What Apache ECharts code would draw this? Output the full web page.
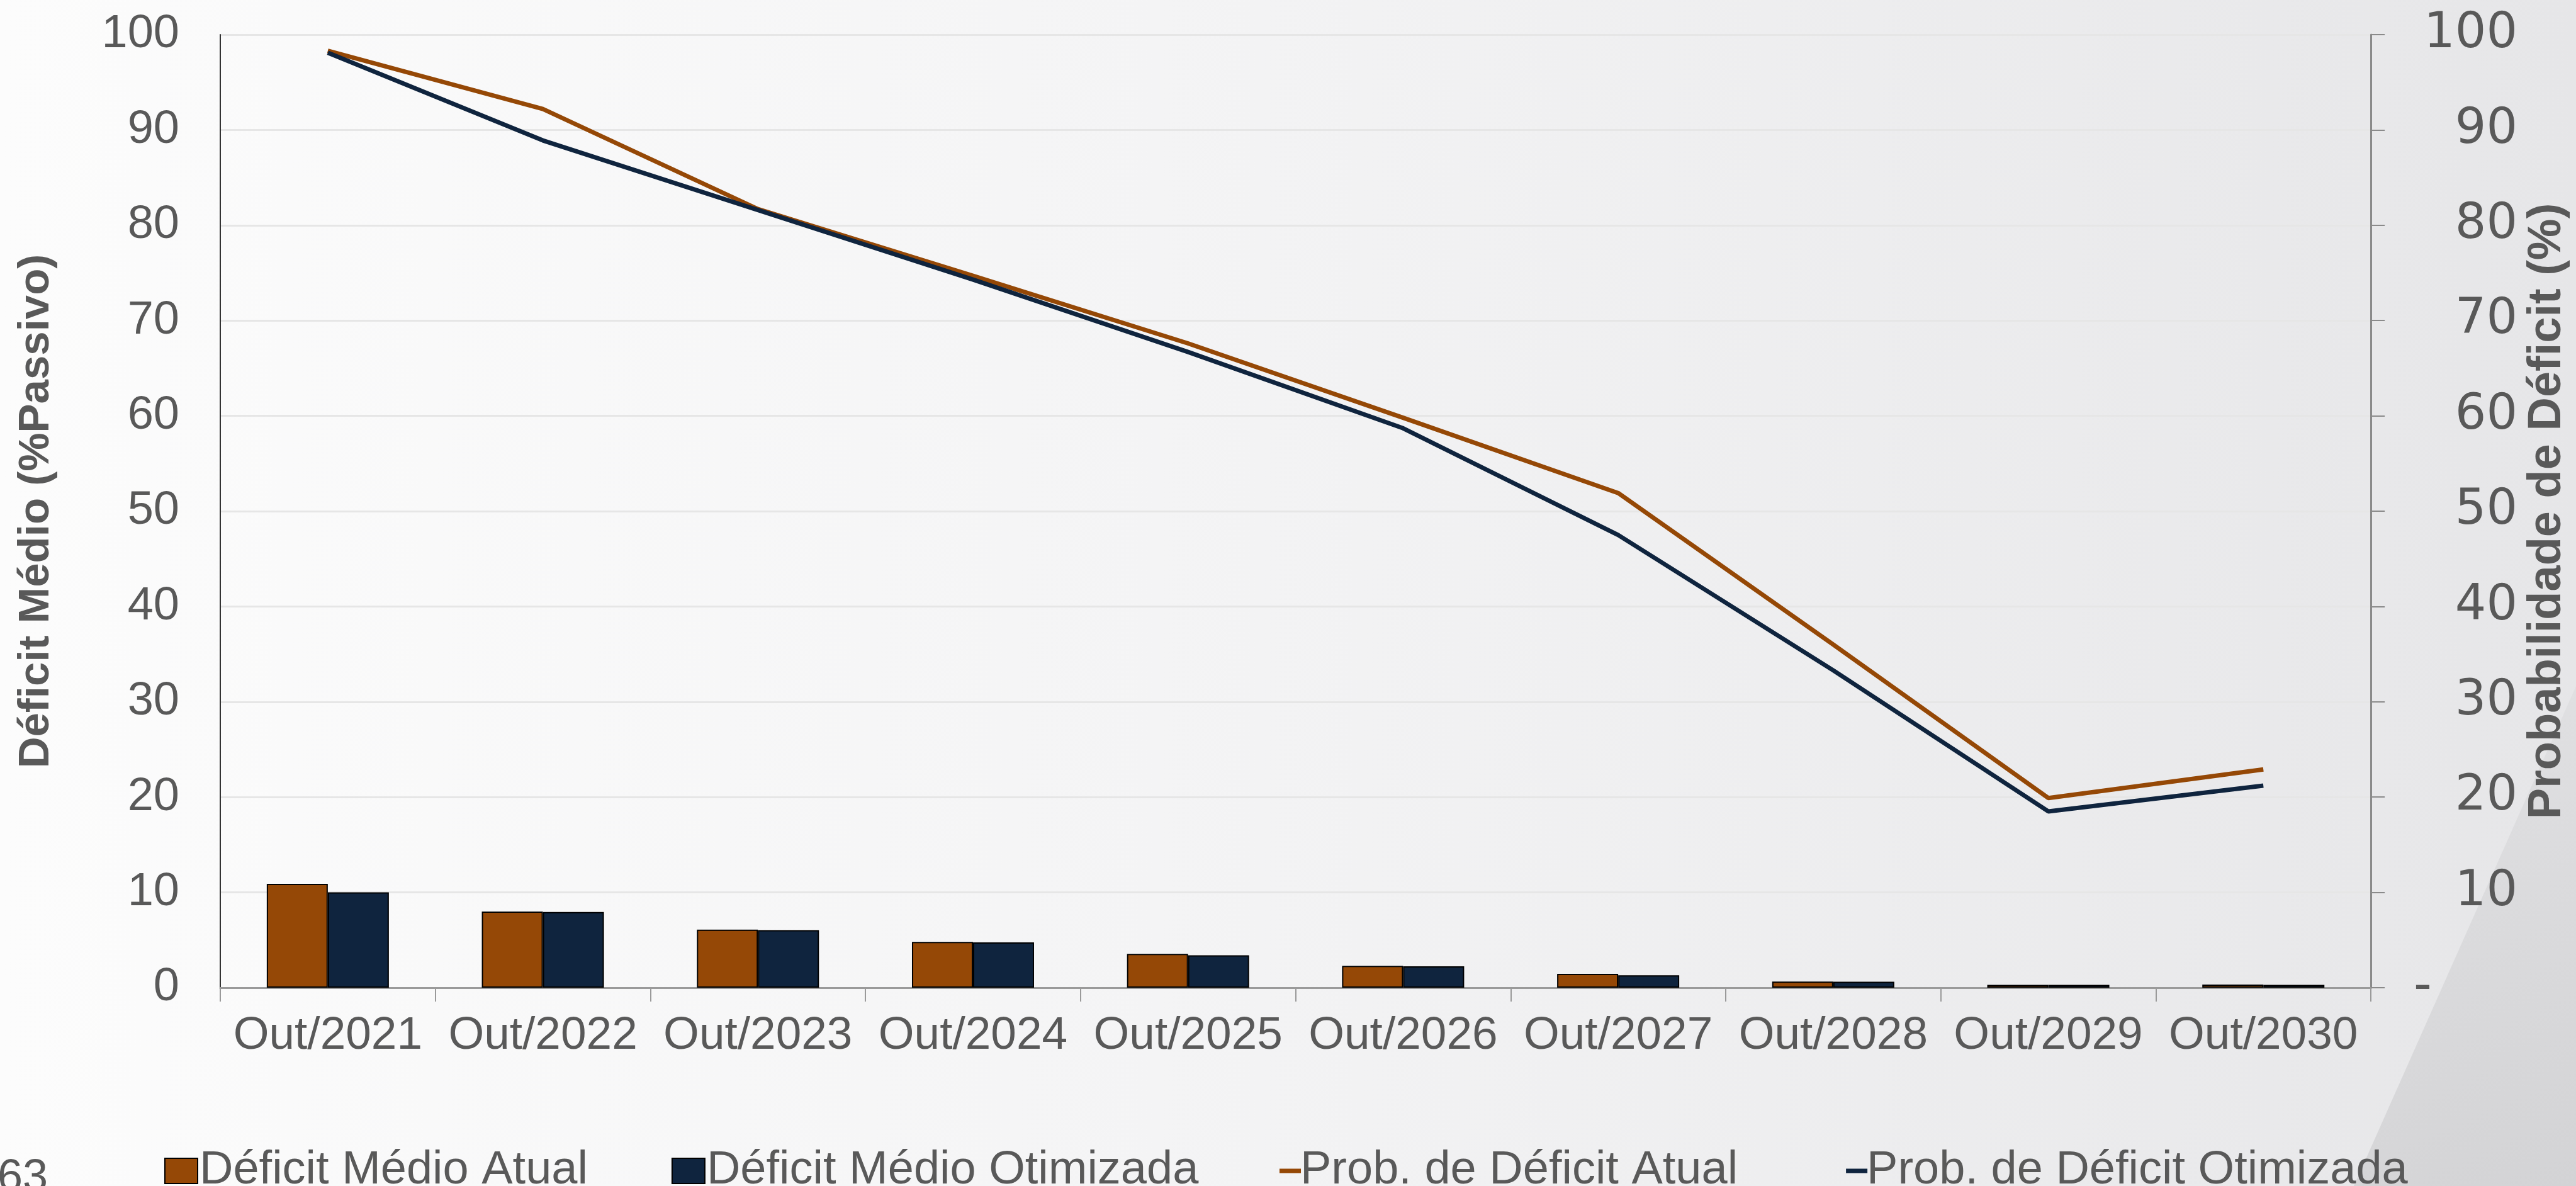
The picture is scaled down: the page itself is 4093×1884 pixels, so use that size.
<!DOCTYPE html>
<html>
<head>
<meta charset="utf-8">
<title>Déficit</title>
<script src="https://cdn.jsdelivr.net/npm/echarts@6/dist/echarts.min.js"></script>
<style>
  html, body { margin: 0; padding: 0; }
  body {
    width: 4093px;
    height: 1884px;
    overflow: hidden;
    background: linear-gradient(to right, #fcfcfc 0%, #f4f4f5 45%, #e6e6e8 100%);
  }
  #chart { width: 4093px; height: 1884px; }
</style>
</head>
<body>
<div id="chart"></div>
<script>
// dados
var categorias = ["Out/2021", "Out/2022", "Out/2023", "Out/2024", "Out/2025",
                  "Out/2026", "Out/2027", "Out/2028", "Out/2029", "Out/2030"];
var deficitAtual = [10.9, 8.0, 6.1, 4.8, 3.55, 2.3, 1.45, 0.65, 0.3, 0.33];
var deficitOtimizada = [10.0, 7.95, 6.05, 4.75, 3.4, 2.25, 1.3, 0.62, 0.29, 0.29];
var probAtual = [98.3, 92.2, 81.7, 74.7, 67.6, 59.8, 51.9, 36.0, 19.9, 22.9];
var probOtimizada = [98.1, 88.9, 81.6, 74.3, 66.7, 58.7, 47.5, 33.3, 18.5, 21.2];

var corAtual = "#954806";
var corOtimizada = "#0f243e";
var corTexto = "#595959";
var fonte = "Liberation Sans, Arial, sans-serif";

var myChart = echarts.init(document.getElementById("chart"));

var option = {
  backgroundColor: "transparent",
  textStyle: { fontFamily: fonte },
  graphic: [
    {
      // canto cinza do fundo do slide
      type: "polygon",
      z: -10,
      shape: { points: [[3740, 1884], [4093, 1090], [4093, 1884]] },
      style: {
        fill: new echarts.graphic.LinearGradient(0, 0, 1, 1, [
          { offset: 0, color: "#e2e2e4" },
          { offset: 1, color: "#d3d3d5" }
        ])
      },
      silent: true
    },
    {
      type: "text",
      left: -4,
      top: 1836,
      style: { text: "63", fontSize: 72, fill: corTexto, fontFamily: fonte }
    }
  ],
  grid: { left: 350, right: 313, top: 55, bottom: 315 },
  legend: [
    {
      data: ["Déficit Médio Atual", "Déficit Médio Otimizada"],
      left: 256,
      top: 1818,
      itemWidth: 52,
      itemHeight: 40,
      itemGap: 133,
      icon: "rect",
      textStyle: { fontSize: 74, color: corTexto, padding: [0, 0, 0, -2] }
    },
    {
      data: ["Prob. de Déficit Atual", "Prob. de Déficit Otimizada"],
      left: 2028,
      top: 1818,
      itemWidth: 34,
      itemHeight: 7,
      itemGap: 172,
      icon: "rect",
      textStyle: { fontSize: 74, color: corTexto, padding: [0, 0, 0, -6] }
    }
  ],
  xAxis: {
    type: "category",
    data: categorias,
    boundaryGap: true,
    axisLine: { lineStyle: { color: "#9a9a9a", width: 3 } },
    axisTick: { show: true, length: 22, lineStyle: { color: "#9a9a9a", width: 2 } },
    axisLabel: { fontSize: 73, color: corTexto, margin: 40, interval: 0 }
  },
  yAxis: [
    {
      type: "value",
      min: 0,
      max: 100,
      interval: 10,
      name: "Déficit Médio (%Passivo)",
      nameLocation: "middle",
      nameGap: 258,
      nameTextStyle: { fontSize: 69, fontWeight: "bold", color: corTexto },
      axisLine: { show: true, lineStyle: { color: "#333333", width: 2 } },
      axisTick: { show: false },
      axisLabel: { fontSize: 74, color: corTexto, margin: 65 },
      splitLine: { lineStyle: { color: "#e6e6e6", width: 3 } }
    },
    {
      type: "value",
      position: "right",
      min: 0,
      max: 100,
      interval: 10,
      name: "Probabilidade de Déficit (%)",
      nameLocation: "middle",
      nameGap: 238,
      nameRotate: 90,
      nameTextStyle: { fontSize: 74, fontWeight: "bold", color: corTexto },
      axisLine: { show: true, lineStyle: { color: "#8a8a8a", width: 3 } },
      axisTick: { show: true, length: 22, lineStyle: { color: "#8a8a8a", width: 2 } },
      axisLabel: {
        fontSize: 78,
        fontFamily: "DejaVu Sans, Verdana, sans-serif",
        color: corTexto,
        margin: 233,
        align: "right",
        formatter: function (v) {
          return v === 0 ? "{dash|-}" : v;
        },
        rich: {
          dash: { width: 165, align: "left", fontSize: 80, color: corTexto, fontFamily: "DejaVu Sans, sans-serif" }
        }
      },
      splitLine: { show: false }
    }
  ],
  series: [
    {
      name: "Déficit Médio Atual",
      type: "bar",
      yAxisIndex: 0,
      data: deficitAtual,
      barWidth: 97,
      barGap: "0%",
      itemStyle: { color: corAtual, borderColor: "#000000", borderWidth: 2 }
    },
    {
      name: "Déficit Médio Otimizada",
      type: "bar",
      yAxisIndex: 0,
      data: deficitOtimizada,
      barWidth: 97,
      barGap: "0%",
      itemStyle: { color: corOtimizada, borderColor: "#000000", borderWidth: 2 }
    },
    {
      name: "Prob. de Déficit Atual",
      type: "line",
      yAxisIndex: 1,
      data: probAtual,
      showSymbol: false,
      symbol: "none",
      color: corAtual,
      lineStyle: { color: corAtual, width: 7 }
    },
    {
      name: "Prob. de Déficit Otimizada",
      type: "line",
      yAxisIndex: 1,
      data: probOtimizada,
      showSymbol: false,
      symbol: "none",
      color: corOtimizada,
      lineStyle: { color: corOtimizada, width: 7 }
    }
  ]
};

myChart.setOption(option);
</script>
</body>
</html>
